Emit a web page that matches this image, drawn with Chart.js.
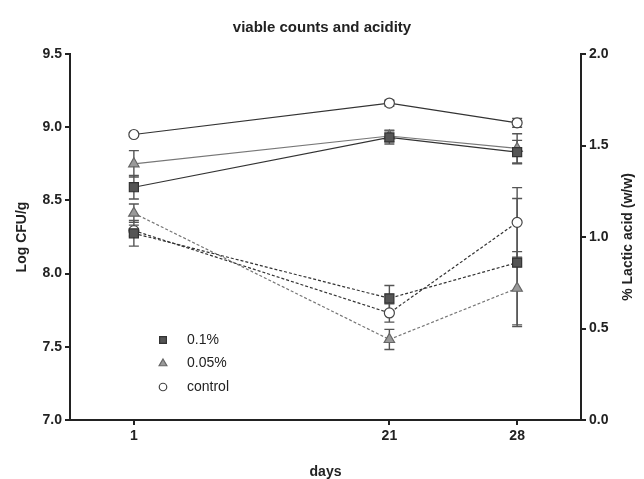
<!DOCTYPE html>
<html>
<head>
<meta charset="utf-8">
<script src="https://cdn.jsdelivr.net/npm/chart.js"></script>
<style>
  body { margin: 0; background: #fff; }
  #wrap { width: 644px; height: 479px; }
</style>
</head>
<body>
<div id="wrap"><canvas id="chart" width="644" height="479"></canvas></div>
<script>
// jours de mesure (l'axe garde un creneau vide entre 1 et 21, comme sur la figure)
const days = ['1', '21', '28'];
const axisLabels = ['1', '', '21', '28'];

// viable counts, Log CFU/g (axe gauche)
const cfu01 = [8.59, 8.93, 8.83];
const cfu01Err = [0.08, 0.045, 0.08];
const cfu005 = [8.75, 8.94, 8.855];
const cfu005Err = [0.09, 0.04, 0.1];
const cfuCtrl = [8.95, 9.165, 9.03];
const cfuCtrlErr = [0.01, 0.02, 0.03];

// acidity, % lactic acid (axe droit)
const acid01 = [1.02, 0.665, 0.86];
const acid01Err = [0.07, 0.07, 0.35];
const acid005 = [1.13, 0.44, 0.72];
const acid005Err = [0.05, 0.055, 0.2];
const acidCtrl = [1.035, 0.585, 1.08];
const acidCtrlErr = [0.03, 0.05, 0.19];

const font = "'Liberation Sans', Arial, sans-serif";
const axisColor = '#222';

const toPoints = vals => vals.map((v, i) => ({ x: days[i], y: v }));

const styles = {
  '0.1%':   { line: '#333', fill: '#555', border: '#333', shape: 'rect', r: 6.4 },
  '0.05%':  { line: '#777', fill: '#9a9a9a', border: '#666', shape: 'triangle', r: 6 },
  'control': { line: '#333', fill: '#fff', border: '#444', shape: 'circle', r: 5 }
};

const makeSet = (name, vals, errs, axis, dashed) => {
  const s = styles[name];
  return {
    label: name,
    data: toPoints(vals),
    errors: errs,
    yAxisID: axis,
    borderColor: s.line,
    borderWidth: 1.2,
    borderDash: dashed ? [3, 2] : [],
    pointStyle: s.shape,
    pointRadius: s.r,
    pointHoverRadius: s.r,
    pointBackgroundColor: s.fill,
    pointBorderColor: s.border,
    pointBorderWidth: 1.2,
    fill: false,
    tension: 0,
    showInLegend: !dashed
  };
};

// barres d'erreur dessinees sous les marqueurs
const errorBars = {
  id: 'errorBars',
  beforeDatasetsDraw(chart) {
    const ctx = chart.ctx;
    ctx.save();
    ctx.strokeStyle = '#555';
    ctx.lineWidth = 1.4;
    chart.data.datasets.forEach((ds, di) => {
      const meta = chart.getDatasetMeta(di);
      const yScale = chart.scales[ds.yAxisID];
      meta.data.forEach((pt, i) => {
        const v = ds.data[i].y, e = ds.errors[i];
        const x = pt.x;
        const yTop = yScale.getPixelForValue(v + e);
        const yBot = yScale.getPixelForValue(v - e);
        ctx.beginPath();
        ctx.moveTo(x, yTop); ctx.lineTo(x, yBot);
        ctx.moveTo(x - 5, yTop); ctx.lineTo(x + 5, yTop);
        ctx.moveTo(x - 5, yBot); ctx.lineTo(x + 5, yBot);
        ctx.stroke();
      });
    });
    ctx.restore();
  }
};

// legende dans le graphe + titre de l'axe droit (lu de bas en haut)
const extras = {
  id: 'extras',
  afterDraw(chart) {
    const ctx = chart.ctx;
    const area = chart.chartArea;
    ctx.save();
    let y = 340;
    chart.data.datasets.filter(ds => ds.showInLegend).forEach(ds => {
      const s = styles[ds.label];
      ctx.fillStyle = s.fill;
      ctx.strokeStyle = s.border;
      ctx.lineWidth = 1.2;
      Chart.helpers.drawPoint(ctx, { pointStyle: s.shape, radius: s.r * 0.75, borderWidth: 1.2 }, 163, y);
      ctx.fillStyle = '#222';
      ctx.font = '14px ' + font;
      ctx.textAlign = 'left';
      ctx.textBaseline = 'middle';
      ctx.fillText(ds.label, 187, y);
      y += 23.5;
    });

    ctx.translate(628, (area.top + area.bottom) / 2);
    ctx.rotate(-Math.PI / 2);
    ctx.font = 'bold 14px ' + font;
    ctx.fillStyle = '#222';
    ctx.textAlign = 'center';
    ctx.textBaseline = 'middle';
    ctx.fillText('% Lactic acid (w/w)', 0, 0);
    ctx.restore();
  }
};

const tickFont = { family: font, size: 14, weight: 'bold' };

new Chart(document.getElementById('chart'), {
  type: 'line',
  data: {
    labels: axisLabels,
    datasets: [
      makeSet('0.1%', cfu01, cfu01Err, 'y', false),
      makeSet('0.05%', cfu005, cfu005Err, 'y', false),
      makeSet('control', cfuCtrl, cfuCtrlErr, 'y', false),
      makeSet('0.1%', acid01, acid01Err, 'y2', true),
      makeSet('0.05%', acid005, acid005Err, 'y2', true),
      makeSet('control', acidCtrl, acidCtrlErr, 'y2', true)
    ]
  },
  options: {
    responsive: false,
    animation: false,
    devicePixelRatio: 1,
    layout: { padding: 0 },
    plugins: {
      legend: { display: false },
      tooltip: { enabled: false },
      title: {
        display: true,
        text: 'viable counts and acidity',
        color: '#222',
        font: { family: font, size: 15, weight: 'bold' },
        padding: { top: 19, bottom: 17 }
      }
    },
    scales: {
      x: {
        type: 'category',
        offset: true,
        afterFit(scale) { scale.height = 59; },
        border: { color: axisColor, width: 2 },
        grid: {
          offset: false,
          drawOnChartArea: false,
          tickLength: 5,
          lineWidth: 2,
          color: ctx => (ctx.tick && ctx.tick.label === '') ? 'rgba(0,0,0,0)' : axisColor
        },
        ticks: { color: '#222', font: tickFont, padding: 3, maxRotation: 0, autoSkip: false },
        title: {
          display: true,
          text: 'days',
          color: '#222',
          font: { family: font, size: 14, weight: 'bold' },
          padding: { top: 0, bottom: -2 }
        }
      },
      y: {
        position: 'left',
        min: 7,
        max: 9.5,
        afterFit(scale) { scale.width = 70; },
        border: { color: axisColor, width: 2 },
        grid: { drawOnChartArea: false, tickLength: 5, lineWidth: 2, color: axisColor },
        ticks: {
          stepSize: 0.5,
          color: '#222',
          font: tickFont,
          padding: 3,
          callback: v => v.toFixed(1)
        },
        title: {
          display: true,
          text: 'Log CFU/g',
          color: '#222',
          font: { family: font, size: 14, weight: 'bold' },
          padding: { top: 14, bottom: 0 }
        }
      },
      y2: {
        position: 'right',
        min: 0,
        max: 2,
        afterFit(scale) { scale.width = 63; },
        border: { color: axisColor, width: 2 },
        grid: { drawOnChartArea: false, tickLength: 5, lineWidth: 2, color: axisColor },
        ticks: {
          stepSize: 0.5,
          color: '#222',
          font: tickFont,
          padding: 3,
          callback: v => v.toFixed(1)
        }
      }
    }
  },
  plugins: [errorBars, extras]
});
</script>
</body>
</html>
